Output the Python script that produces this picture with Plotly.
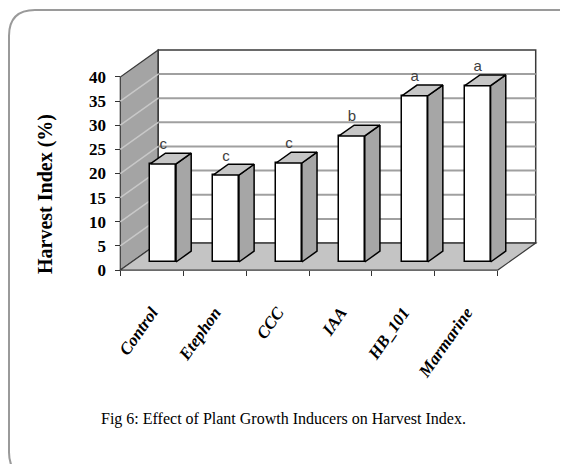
import plotly.graph_objects as go

# ---- data ----
categories = ["Control", "Etephon", "CCC", "IAA", "HB_101", "Marmarine"]
harvest_index = [20.3, 18.0, 20.5, 26.1, 34.4, 36.5]
letters = ["c", "c", "c", "b", "a", "a"]
y_ticks = [0, 5, 10, 15, 20, 25, 30, 35, 40]

# ---- pseudo-3D geometry (in axis units) ----
YMAX = 40
DX, DY = 0.603, 5.6          # full depth shift of the back wall
F0, F1 = 0.3, 0.7            # bar front / back depth fraction
W = 0.41                     # bar width (category units)
X0, X1 = -0.5, len(categories) - 0.5

XR = [-0.6, X1 + DX + 0.1]
YR = [-0.6, YMAX + DY + 0.6]

OFF = 8                      # page body margin
W_PX, H_PX = 568, 464
L, R, T, B = 106, 34, 39, 199
pw = W_PX - L - R
ph = H_PX - T - B

def px2paper(x, y):
    # x, y are window pixel positions
    return (x - OFF - L) / pw, (H_PX - B - (y - OFF)) / ph

fig = go.Figure()

edge = "#3a3a3a"
shapes = []

def poly(pts):
    return "M " + " L ".join(f"{x},{y}" for x, y in pts) + " Z"

# left wall
shapes.append(dict(type="path", layer="below", xref="x", yref="y",
                   path=poly([(X0, 0), (X0 + DX, DY), (X0 + DX, YMAX + DY), (X0, YMAX)]),
                   fillcolor="#a4a4a4", line=dict(color=edge, width=1.2)))
# back wall
shapes.append(dict(type="path", layer="below", xref="x", yref="y",
                   path=poly([(X0 + DX, DY), (X1 + DX, DY), (X1 + DX, YMAX + DY), (X0 + DX, YMAX + DY)]),
                   fillcolor="white", line=dict(color=edge, width=1.5)))
# gridlines
for v in y_ticks[1:-1]:
    shapes.append(dict(type="line", layer="below", xref="x", yref="y",
                       x0=X0 + DX, x1=X1 + DX, y0=v + DY, y1=v + DY,
                       line=dict(color="#a0a0a0", width=2)))
    shapes.append(dict(type="line", layer="below", xref="x", yref="y",
                       x0=X0, x1=X0 + DX, y0=v, y1=v + DY,
                       line=dict(color="#c8c8c8", width=1.5)))
# floor
shapes.append(dict(type="path", layer="below", xref="x", yref="y",
                   path=poly([(X0, 0), (X1, 0), (X1 + DX, DY), (X0 + DX, DY)]),
                   fillcolor="#c4c4c4", line=dict(color=edge, width=1.2)))

# bar front faces
xs_front = [i + F0 * DX for i in range(len(categories))]
fig.add_trace(go.Bar(x=xs_front, y=harvest_index, base=F0 * DY, width=W,
                     marker=dict(color="white", line=dict(color="black", width=1.5)),
                     hoverinfo="skip", showlegend=False))

# bar side and top faces
for i, v in enumerate(harvest_index):
    xr = i + W / 2 + F0 * DX
    xl = i - W / 2 + F0 * DX
    dx = (F1 - F0) * DX
    dy = (F1 - F0) * DY
    yb = F0 * DY
    yt = v + F0 * DY
    fig.add_trace(go.Scatter(x=[xr, xr + dx, xr + dx, xr, xr],
                             y=[yb, yb + dy, yt + dy, yt, yb],
                             fill="toself", fillcolor="#a6a6a6", mode="lines",
                             line=dict(color="black", width=1.5),
                             hoverinfo="skip", showlegend=False))
    fig.add_trace(go.Scatter(x=[xl, xr, xr + dx, xl + dx, xl],
                             y=[yt, yt, yt + dy, yt + dy, yt],
                             fill="toself", fillcolor="#c6c6c6", mode="lines",
                             line=dict(color="black", width=1.5),
                             hoverinfo="skip", showlegend=False))

# significance letters
fig.add_trace(go.Scatter(x=xs_front, y=[v + F1 * DY for v in harvest_index],
                         mode="text", text=letters, textposition="top center",
                         textfont=dict(family="Liberation Sans", size=15, color="#404040"),
                         hoverinfo="skip", showlegend=False, cliponaxis=False))

# frame (rounded rectangle) in paper coords
fx0, fy0, fx1, fy1, rad = 9, 10, 585, 478, 26
def P(x, y):
    a, b = px2paper(x, y)
    return f"{a:.5f},{b:.5f}"
frame = (f"M {P(fx0 + rad, fy0)} L {P(fx1 - rad, fy0)} Q {P(fx1, fy0)} {P(fx1, fy0 + rad)} "
         f"L {P(fx1, fy1 - rad)} Q {P(fx1, fy1)} {P(fx1 - rad, fy1)} "
         f"L {P(fx0 + rad, fy1)} Q {P(fx0, fy1)} {P(fx0, fy1 - rad)} "
         f"L {P(fx0, fy0 + rad)} Q {P(fx0, fy0)} {P(fx0 + rad, fy0)}")
shapes.append(dict(type="path", xref="paper", yref="paper", path=frame,
                   line=dict(color="#9a9a9a", width=2), layer="below"))

ax_x = (X0 - XR[0]) / (XR[1] - XR[0])
ax_y = (0 - YR[0]) / (YR[1] - YR[0])

tx, ty = px2paper(45, 194)
cx, cy = px2paper(283, 419)

fig.update_layout(
    width=W_PX, height=H_PX,
    margin=dict(l=L, r=R, t=T, b=B),
    paper_bgcolor="white", plot_bgcolor="rgba(0,0,0,0)",
    shapes=shapes,
    bargap=0,
    xaxis=dict(range=XR, showgrid=False, zeroline=False, showline=False,
               tickmode="array", tickvals=list(range(len(categories))), ticktext=categories,
               ticks="", tickangle=-55, ticklabelstandoff=28,
               tickfont=dict(family="Liberation Serif", size=17, color="black", weight="bold", style="italic"),
               minor=dict(tickmode="array", tickvals=[k - 0.5 for k in range(len(categories) + 1)],
                          ticks="outside", ticklen=5, tickcolor="#333", tickwidth=1),
               anchor="free", position=ax_y, fixedrange=True),
    yaxis=dict(range=YR, showgrid=False, zeroline=False, showline=False,
               tickmode="array", tickvals=y_ticks, ticks="outside", ticklen=5,
               tickcolor="#333", ticklabelstandoff=6,
               tickfont=dict(family="Liberation Serif", size=17, color="black", weight="bold"),
               anchor="free", position=ax_x, fixedrange=True),
    annotations=[
        dict(text="Harvest Index (%)", xref="paper", yref="paper", x=tx, y=ty,
             xanchor="center", yanchor="middle",
             textangle=-90, showarrow=False,
             font=dict(family="Liberation Serif", size=20, color="black", weight="bold")),
        dict(text="Fig 6: Effect of Plant Growth Inducers on Harvest Index.",
             xref="paper", yref="paper", x=cx, y=cy, showarrow=False,
             xanchor="center", yanchor="middle",
             font=dict(family="Liberation Serif", size=16, color="black")),
    ],
)
fig.write_html("out.html")
